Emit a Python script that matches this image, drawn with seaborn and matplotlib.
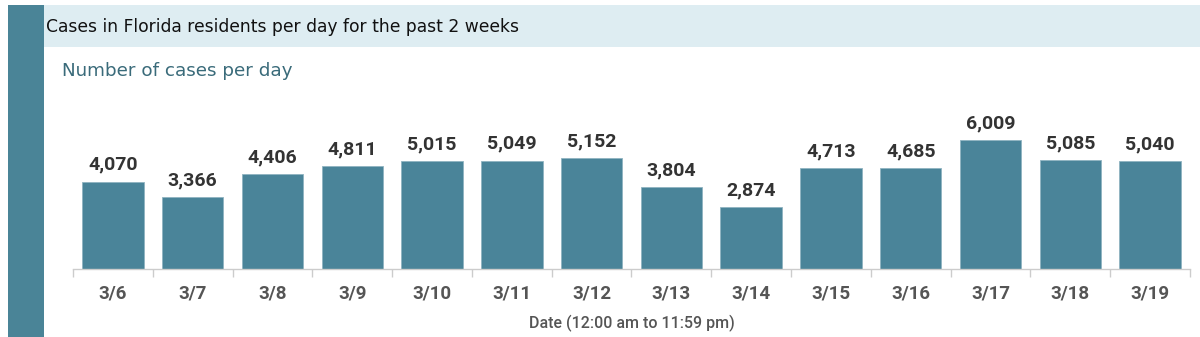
import matplotlib
matplotlib.use("Agg")
import matplotlib.pyplot as plt
import seaborn as sns
import pandas as pd
from matplotlib.patches import Rectangle

dates = ["3/6", "3/7", "3/8", "3/9", "3/10", "3/11", "3/12", "3/13", "3/14",
         "3/15", "3/16", "3/17", "3/18", "3/19"]
cases = [4070, 3366, 4406, 4811, 5015, 5049, 5152, 3804, 2874,
         4713, 4685, 6009, 5085, 5040]

title = "Cases in Florida residents per day for the past 2 weeks"
subtitle = "Number of cases per day"
xlabel = "Date (12:00 am to 11:59 pm)"

sns.set_theme(style="white")
FAM = ['Roboto', 'DejaVu Sans']
plt.rcParams['font.family'] = FAM

W, H = 1200, 337
fig = plt.figure(figsize=(W / 100, H / 100), dpi=100)

# decorative background shapes
fig.patches.append(Rectangle((8 / W, 0), 36 / W, 1 - 5 / H, transform=fig.transFigure,
                             facecolor="#4a8497", edgecolor="none", zorder=0))
fig.patches.append(Rectangle((44 / W, 1 - 47 / H), 1 - 44 / W, 42 / H, transform=fig.transFigure,
                             facecolor="#deedf2", edgecolor="none", zorder=0))
fig.text(46 / W, 1 - 27 / H, title, fontsize=12.3, color="#111111", va="center", ha="left",
         family=['DejaVu Sans'])
fig.text(62 / W, 1 - 71 / H, subtitle, fontsize=13.2, color="#3a6b7a", va="center", ha="left",
         family=['DejaVu Sans'])

ax = fig.add_axes([73 / W, 1 - 269 / H, (1190 - 73) / W, (269 - 95) / H])
df = pd.DataFrame({"date": dates, "cases": cases})
sns.barplot(data=df, x="date", y="cases", color="#4a8499", saturation=1, width=0.77,
            edgecolor="#8fb3c1", linewidth=0.6, ax=ax)
ax.set_xlim(-0.5, len(dates) - 0.5)
ax.set_ylim(0, 8100)

for i, v in enumerate(cases):
    ax.annotate(f"{v:,}", (i, v), xytext=(0, 5.5), textcoords="offset points",
                ha="center", va="bottom", fontsize=14, fontweight="bold", color="#333333")

for s in ["top", "right", "left"]:
    ax.spines[s].set_visible(False)
ax.spines["bottom"].set_color("#cccccc")
ax.spines["bottom"].set_linewidth(1)
ax.set_yticks([])
ax.set_ylabel("")
ax.set_xticks(range(len(dates)))
ax.set_xticklabels(dates, fontsize=13.5, color="#555555", fontweight="bold")
ax.set_xticks([i + 0.5 for i in range(-1, len(dates))], minor=True)
ax.tick_params(axis="x", which="major", length=0, pad=11)
ax.tick_params(axis="x", which="minor", length=6, color="#cccccc", width=1, bottom=True)
ax.set_xlabel(xlabel, fontsize=11.5, color="#555555", labelpad=9, fontweight="medium")
ax.patch.set_alpha(0)

fig.savefig("out.png", dpi=100)
